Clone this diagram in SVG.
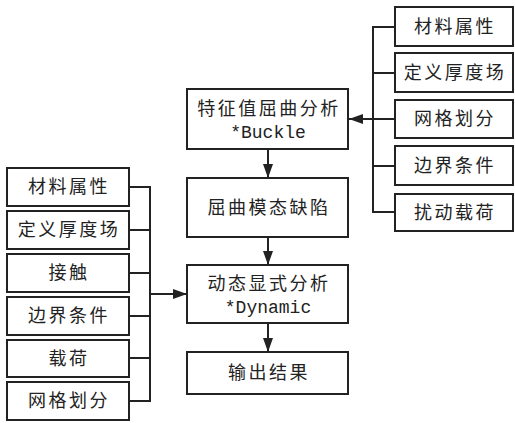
<svg xmlns="http://www.w3.org/2000/svg" width="515" height="423" viewBox="0 0 515 423">
<style>
.box{fill:#fff;stroke:#222;stroke-width:2}
.ln{fill:none;stroke:#222;stroke-width:2}
.t{font-family:"Noto Sans CJK SC","Noto Sans CJK JP",sans-serif;font-size:18px;fill:#222;text-anchor:middle;letter-spacing:2.5px}
.m{font-family:"Liberation Mono","DejaVu Sans Mono",monospace;font-size:18px;fill:#222;text-anchor:middle}
</style>
<defs>
<marker id="ah" viewBox="0 0 10 10" refX="10" refY="5" markerWidth="10" markerHeight="10" markerUnits="userSpaceOnUse" orient="auto">
<path d="M0,0 L10,5 L0,10 z" fill="#222"/>
</marker>
<marker id="ah2" viewBox="0 0 14 10" refX="14" refY="5" markerWidth="14" markerHeight="10" markerUnits="userSpaceOnUse" orient="auto">
<path d="M0,0 L14,5 L0,10 z" fill="#222"/>
</marker>
</defs>
<g id="connectors">
<line class="ln" x1="268" y1="149" x2="268" y2="178" marker-end="url(#ah2)"/>
<line class="ln" x1="268" y1="237" x2="268" y2="265" marker-end="url(#ah2)"/>
<line class="ln" x1="268" y1="323" x2="268" y2="352" marker-end="url(#ah2)"/>
<path class="ln" d="M395,27 H373 V212 H395 M373,73 H395 M373,119 H395 M373,166 H395"/>
<line class="ln" x1="373" y1="119" x2="349" y2="119" marker-end="url(#ah2)"/>
<path class="ln" d="M129,187 H150 V401 H129 M129,230 H150 M129,273 H150 M129,316 H150 M129,358 H150"/>
<line class="ln" x1="150" y1="294" x2="187" y2="294" marker-end="url(#ah2)"/>
</g>
<g id="n-buckle"><rect class="box" x="187" y="89" width="161" height="60"/><text class="t" x="269" y="115">特征值屈曲分析</text><text class="m" x="268" y="138">*Buckle</text></g>
<g id="n-mode"><rect class="box" x="187" y="178" width="161" height="59"/><text class="t" x="269" y="214">屈曲模态缺陷</text></g>
<g id="n-dynamic"><rect class="box" x="187" y="265" width="161" height="58"/><text class="t" x="269" y="290">动态显式分析</text><text class="m" x="268" y="313">*Dynamic</text></g>
<g id="n-output"><rect class="box" x="187" y="352" width="161" height="42"/><text class="t" x="269" y="379">输出结果</text></g>
<g id="r1"><rect class="box" x="395" y="7" width="118" height="39"/><text class="t" x="455" y="33">材料属性</text></g>
<g id="r2"><rect class="box" x="395" y="53" width="118" height="39"/><text class="t" x="455" y="79">定义厚度场</text></g>
<g id="r3"><rect class="box" x="395" y="100" width="118" height="38"/><text class="t" x="455" y="125">网格划分</text></g>
<g id="r4"><rect class="box" x="395" y="146" width="118" height="39"/><text class="t" x="455" y="172">边界条件</text></g>
<g id="r5"><rect class="box" x="395" y="194" width="118" height="37"/><text class="t" x="455" y="219">扰动载荷</text></g>
<g id="l1"><rect class="box" x="7" y="168" width="122" height="38"/><text class="t" x="69" y="193">材料属性</text></g>
<g id="l2"><rect class="box" x="7" y="211" width="122" height="38"/><text class="t" x="69" y="236">定义厚度场</text></g>
<g id="l3"><rect class="box" x="7" y="254" width="122" height="38"/><text class="t" x="69" y="279">接触</text></g>
<g id="l4"><rect class="box" x="7" y="297" width="122" height="38"/><text class="t" x="69" y="322">边界条件</text></g>
<g id="l5"><rect class="box" x="7" y="340" width="122" height="37"/><text class="t" x="69" y="365">载荷</text></g>
<g id="l6"><rect class="box" x="7" y="382" width="122" height="38"/><text class="t" x="69" y="407">网格划分</text></g>
</svg>
